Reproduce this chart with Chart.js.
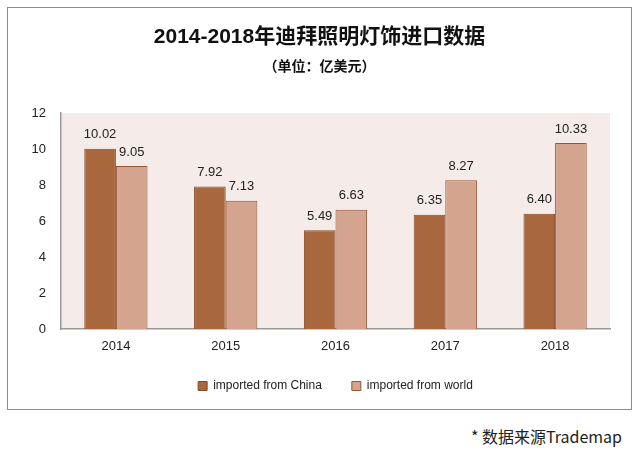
<!DOCTYPE html>
<html>
<head>
<meta charset="utf-8">
<script src="https://cdn.jsdelivr.net/npm/chart.js@4"></script>
<style>
  html, body { margin: 0; padding: 0; background: #fff; }
  #frame {
    position: absolute; left: 7px; top: 7px;
    width: 623px; height: 401px;
    border: 1px solid #8c8c8c;
  }
  #note {
    position: absolute; right: 17px; top: 426px;
    font: 16px "Noto Sans CJK SC", sans-serif; line-height: 20px; color: #222;
  }
</style>
</head>
<body>
<div id="frame"><canvas id="chart"></canvas></div>
<div id="note">* 数据来源Trademap</div>
<script>
// data (units: 100M USD)
const years = ['2014', '2015', '2016', '2017', '2018'];
const fromChina = [10.02, 7.92, 5.49, 6.35, 6.40];
const fromWorld = [9.05, 7.13, 6.63, 8.27, 10.33];
const seriesNames = ['imported from China', 'imported from world'];

const textFont = '"Liberation Sans", Arial, sans-serif';

// pink background behind the bars
const plotBg = {
  id: 'plotBg',
  beforeDraw(chart) {
    const { ctx, chartArea: a } = chart;
    ctx.save();
    ctx.fillStyle = '#f5ebe9';
    ctx.fillRect(a.left, a.top, a.right - a.left, a.bottom - a.top);
    ctx.restore();
  }
};

// legend centred under the plot, titles centred on the whole frame
const recentre = {
  id: 'recentre',
  afterLayout(chart) {
    const lg = chart.legend;
    if (lg) {
      lg.left = chart.chartArea.left;
      lg.right = chart.chartArea.right;
      lg.width = lg.right - lg.left;
    }
    [chart.titleBlock, chart.boxes.find(b => b.options && b.options.text === subtitleText)]
      .forEach(t => {
        if (!t) return;
        t.left = 0;
        t.right = chart.width;
        t.width = chart.width;
      });
  }
};

const subtitleText = '（单位：亿美元）';

// value labels on top of every bar
const barValues = {
  id: 'barValues',
  afterDatasetsDraw(chart) {
    const { ctx } = chart;
    ctx.save();
    ctx.font = '13px ' + textFont;
    ctx.fillStyle = '#222';
    ctx.textAlign = 'center';
    ctx.textBaseline = 'middle';
    chart.data.datasets.forEach((ds, i) => {
      chart.getDatasetMeta(i).data.forEach((bar, j) => {
        ctx.fillText(ds.data[j].toFixed(2), bar.x, bar.y - 14);
      });
    });
    ctx.restore();
  }
};

new Chart(document.getElementById('chart'), {
  type: 'bar',
  data: {
    labels: years,
    datasets: [
      {
        label: seriesNames[0],
        data: fromChina,
        backgroundColor: '#a9673d',
        borderColor: '#87492a',
        borderWidth: 1
      },
      {
        label: seriesNames[1],
        data: fromWorld,
        backgroundColor: '#d4a48f',
        borderColor: '#955634',
        borderWidth: 1
      }
    ]
  },
  options: {
    responsive: true,
    maintainAspectRatio: false,
    animation: false,
    layout: { padding: { left: 0, right: 21, bottom: 7 } },
    datasets: { bar: { categoryPercentage: 0.576, barPercentage: 1 } },
    scales: {
      x: {
        grid: { display: false },
        border: { display: true, color: '#999', width: 1.5 },
        ticks: { color: '#222', font: { family: textFont, size: 13 }, padding: 2 },
        afterFit(s) { s.height = 21; }
      },
      y: {
        min: 0, max: 12,
        grid: { display: false },
        border: { display: true, color: '#999', width: 1.5 },
        ticks: { stepSize: 2, color: '#222', font: { family: textFont, size: 13 }, padding: 7 },
        afterFit(s) { s.width = 53; }
      }
    },
    plugins: {
      title: {
        display: true,
        text: '2014-2018年迪拜照明灯饰进口数据',
        color: '#111',
        font: { family: '"Liberation Sans", "Noto Sans CJK SC", sans-serif', size: 21, weight: 'bold' },
        padding: { top: 17, bottom: 7 }
      },
      subtitle: {
        display: true,
        text: subtitleText,
        color: '#111',
        font: { family: '"Noto Sans CJK SC", sans-serif', size: 14, weight: 'bold' },
        padding: { top: 0, bottom: 39 }
      },
      legend: {
        position: 'bottom',
        labels: {
          boxWidth: 9,
          boxHeight: 9,
          padding: 30,
          color: '#222',
          font: { family: textFont, size: 12 }
        }
      },
      tooltip: { enabled: false }
    }
  },
  plugins: [plotBg, recentre, barValues]
});
</script>
</body>
</html>
